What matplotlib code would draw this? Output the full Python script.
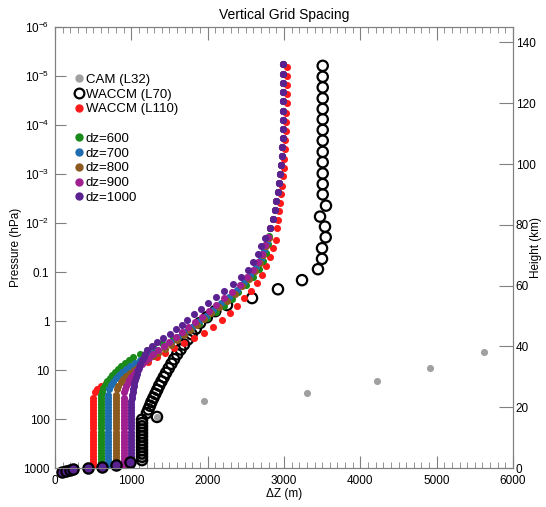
#Vertical grid spacing of CAM / WACCM and constant-dz test grids
import numpy as np
import matplotlib.pyplot as plt
from matplotlib.lines import Line2D

plt.rcParams['font.family'] = ['Liberation Sans', 'DejaVu Sans']
plt.rcParams['mathtext.default'] = 'regular'

#Scale height used for the height axis (km), reference pressure 1000 hPa
H = 7.0
P0 = 1000.0
z_top = H*np.log(P0/1e-6)

#CAM L32 (dz in m, height in km)
cam_dz = [1140, 1140, 1140, 1140, 1140, 1140, 1140, 1140, 1140, 1140, 1140, 1140, 1140,
          1336, 1952, 3305, 4218, 4913, 5620]
cam_z = [2.6, 3.7, 4.8, 5.9, 7.0, 8.1, 9.2, 10.4, 11.5, 12.6, 13.7, 14.8, 15.9,
         16.8, 22.0, 24.7, 28.6, 32.9, 38.2]

#WACCM L70 near the surface
sfc_dz = [92, 144, 197, 236, 432, 616, 800, 983]
sfc_z = [-1.3, -1.0, -0.7, -0.3, 0.0, 0.3, 1.0, 2.0]

#WACCM L70
l70_dz = [1140, 1140, 1140, 1140, 1140, 1140, 1140, 1140, 1140, 1140, 1140, 1140, 1140,
          1336, 1205, 1225, 1245, 1265, 1290, 1315, 1340, 1365, 1395, 1425, 1455, 1490,
          1525, 1560, 1600, 1645, 1690, 1740, 1790, 1845, 1900, 1990, 2100, 2253, 2581,
          2921, 3236, 3445, 3498, 3498, 3546, 3537, 3472, 3550, 3507, 3507, 3507, 3507,
          3507, 3507, 3507, 3507, 3507, 3507, 3507, 3507, 3507]
l70_z = [2.6, 3.7, 4.8, 5.9, 7.0, 8.1, 9.2, 10.4, 11.5, 12.6, 13.7, 14.8, 15.9,
         16.8, 18.1, 19.3, 20.5, 21.8, 23.1, 24.4, 25.7, 27.1, 28.5, 29.9, 31.3, 32.8,
         34.3, 35.8, 37.4, 39.0, 40.6, 42.3, 44.0, 45.8, 47.7, 49.6, 51.6, 53.6, 55.9,
         58.8, 61.8, 65.4, 68.8, 72.3, 75.9, 79.4, 82.7, 86.3, 90.0, 93.4, 96.9, 100.6,
         104.0, 107.7, 111.2, 114.7, 118.1, 121.6, 125.2, 128.7, 132.3]

#WACCM L110
l110_dz = [500]*24 + [520, 550, 600, 668, 747, 852, 956, 1061, 1218, 1336, 1441, 1559,
           1690, 1821, 1952, 2070, 2188, 2293, 2384, 2476, 2568, 2646, 2712, 2764, 2817,
           2856, 2895, 2908, 2921, 2934, 2948, 2961, 2974, 2987, 3000, 3000, 3013, 3013,
           3026, 3026, 3026, 3039, 3039, 3039, 3039, 3039]
l110_z = list(range(24)) + [25.0, 26.0, 27.0, 28.0, 29.3, 30.6, 31.9, 33.2, 34.9, 36.5,
          37.8, 39.5, 41.1, 42.8, 44.4, 46.4, 48.7, 51.0, 53.3, 55.9, 58.2, 60.9, 63.5,
          66.4, 69.4, 72.4, 75.0, 78.9, 81.6, 84.4, 87.2, 90.0, 92.9, 95.9, 98.8, 101.8,
          104.8, 107.9, 110.9, 113.9, 116.9, 120.0, 122.9, 125.9, 128.9, 132.0]

#Constant dz grids: lower part of each one
dz600_dz = [600]*25 + [610, 629, 650, 681, 715, 747, 785, 825, 870, 917, 970, 1022, 1110,
            1200, 1280, 1402, 1540, 1660, 1780, 1890, 1991, 2110, 2210, 2320, 2400, 2500,
            2590, 2670, 2720, 2760, 2790, 2805]
dz600_z = list(range(25)) + [25.0, 26.2, 27.3, 28.5, 29.6, 30.6, 31.6, 32.6, 33.6, 34.6,
           35.6, 36.5, 37.6, 38.7, 39.9, 41.1, 42.5, 44.0, 45.6, 47.4, 49.3, 51.3, 53.4,
           55.6, 57.9, 60.3, 62.8, 65.4, 68.1, 70.8, 73.6, 76.4]

dz700_dz = [700]*25 + [710, 730, 760, 795, 835, 880, 930, 985, 1045, 1110, 1180, 1255,
            1340, 1430, 1520, 1610, 1700, 1790, 1880, 1975, 2075, 2180, 2285, 2380, 2470,
            2560, 2635, 2695, 2740, 2775]
dz700_z = list(range(25)) + [26.0, 27.2, 28.4, 29.5, 30.6, 31.6, 32.6, 33.6, 34.6, 35.6,
           36.6, 37.7, 38.9, 40.2, 41.6, 43.1, 44.7, 46.4, 48.2, 50.1, 52.1, 54.2, 56.4,
           58.7, 61.1, 63.6, 66.2, 68.9, 71.6, 74.4]

dz800_dz = [800]*25 + [810, 830, 860, 895, 935, 980, 1030, 1085, 1145, 1210, 1280, 1355,
            1435, 1520, 1600, 1685, 1770, 1860, 1950, 2045, 2150, 2255, 2355, 2450, 2540,
            2615, 2680, 2730, 2770, 2800]
dz800_z = list(range(25)) + [26.0, 27.1, 28.2, 29.3, 30.3, 31.3, 32.3, 33.3, 34.4, 35.5,
           36.7, 37.9, 39.2, 40.6, 42.1, 43.7, 45.4, 47.2, 49.1, 51.0, 53.0, 55.1, 57.4,
           59.8, 62.2, 64.8, 67.4, 70.1, 72.9, 75.7]

dz900_dz = [900]*24 + [905, 915, 930, 950, 975, 1000, 1030, 1065, 1100, 1140, 1185, 1235,
            1290, 1355, 1425, 1500, 1580, 1660, 1745, 1830, 1920, 2015, 2115, 2220, 2325,
            2425, 2515, 2595, 2660, 2715, 2755, 2790]
dz900_z = list(range(24)) + [25.0, 26.0, 27.0, 28.0, 29.0, 30.0, 31.0, 32.0, 33.0, 34.1,
           35.2, 36.3, 37.5, 38.8, 40.1, 41.5, 43.0, 44.6, 46.3, 48.0, 49.8, 51.7, 53.7,
           55.8, 58.0, 60.3, 62.7, 65.2, 67.8, 70.5, 73.2, 76.0]

dz1000_dz = [1000]*23 + [1005, 1010, 1018, 1025, 1032, 1040, 1048, 1058, 1070, 1085, 1100,
             1115, 1135, 1160, 1185, 1210, 1270, 1330, 1420, 1510, 1590, 1660, 1735, 1820,
             1910, 2010, 2110, 2220, 2330, 2440, 2530, 2600, 2655, 2705, 2750]
dz1000_z = list(range(23)) + [23.0, 24.0, 25.0, 26.0, 27.0, 28.0, 29.0, 30.0, 31.0, 32.1,
            33.2, 34.3, 35.4, 36.5, 37.6, 38.8, 40.0, 41.3, 42.7, 44.2, 45.7, 47.2, 48.8,
            50.5, 52.3, 54.2, 56.2, 58.3, 60.5, 62.8, 65.2, 67.7, 70.3, 73.0, 75.8]

#Upper part, the same for all constant dz grids
upper_dz = [2820, 2850, 2878, 2900, 2920, 2938, 2952, 2962, 2970, 2976, 2981, 2985, 2988,
            2990, 2990, 2990, 2990, 2990, 2990]
upper_z = [79.0, 81.9, 84.8, 87.7, 90.7, 93.7, 96.6, 99.6, 102.6, 105.6, 108.6, 111.6,
           114.6, 117.6, 120.6, 123.6, 126.6, 129.6, 132.8]

dz_cases = ['dz=600', 'dz=700', 'dz=800', 'dz=900', 'dz=1000']
dz_colors = ['#1a8a1a', '#1f6db0', '#8c5a1e', '#a0208f', '#5a2191']
dz_lists = [(dz600_dz, dz600_z), (dz700_dz, dz700_z), (dz800_dz, dz800_z),
            (dz900_dz, dz900_z), (dz1000_dz, dz1000_z)]

#Pressure ticks for the left axis
p_ticks = [1000, 100, 10, 1, 0.1, 1e-2, 1e-3, 1e-4, 1e-5, 1e-6]
p_labels = ['1000', '100', '10', '1', '0.1', '$10^{-2}$', '$10^{-3}$', '$10^{-4}$',
            '$10^{-5}$', '$10^{-6}$']

fig = plt.figure(figsize=(5.46, 5.07), dpi=100)
ax = fig.add_axes([0.1007, 0.0769, 0.8389, 0.8698])

dot = 26
grey = '#a0a0a0'
ax.scatter(cam_dz, cam_z, s=dot, color=grey, lw=0, zorder=2)
ax.scatter(l70_dz, l70_z, s=55, facecolor='none', edgecolor='black', lw=1.6, zorder=2.5)
ax.scatter(sfc_dz, sfc_z, s=55, facecolor='#5a2191', edgecolor='black', lw=1.6,
           zorder=5, clip_on=False)
ax.scatter(l110_dz, l110_z, s=dot, color='#ff1a1a', lw=0, zorder=3)
for (d, z), c in zip(dz_lists, dz_colors):
    ax.scatter(list(d) + upper_dz, list(z) + upper_z, s=dot, color=c, lw=0, zorder=4)

ax.set_xlim(0, 6000)
ax.set_ylim(0, z_top)
ax.set_xticks(np.arange(0, 6001, 1000))
ax.set_xticks(np.arange(0, 6001, 100), minor=True)
ax.set_yticks([H*np.log(P0/p) for p in p_ticks])
ax.set_yticklabels(p_labels)

spine_c = '#808080'
for s in ax.spines.values():
    s.set_color(spine_c)
ax.tick_params(axis='x', which='major', direction='in', length=9, color=spine_c,
               top=True, labelsize=8.5, pad=5)
ax.tick_params(axis='x', which='minor', direction='in', length=4, color=spine_c, top=True)
ax.tick_params(axis='y', which='major', direction='in', length=8, color=spine_c,
               labelsize=8.5, pad=4)

ax2 = ax.twinx()
ax2.set_ylim(0, z_top)
ax2.set_yticks(np.arange(0, 141, 20))
ax2.tick_params(axis='y', direction='in', length=10, color=spine_c, labelsize=8.5, pad=2)
for s in ax2.spines.values():
    s.set_color(spine_c)

ax.set_title('Vertical Grid Spacing', fontsize=10, pad=6)
ax.set_xlabel('\u0394Z (m)', fontsize=8.5, labelpad=1)
ax.set_ylabel('Pressure (hPa)', fontsize=8.5)
ax.yaxis.set_label_coords(-0.072, 0.5)
ax2.set_ylabel('Height (km)', fontsize=8.5)
ax2.yaxis.set_label_coords(1.036, 0.5)

handles = [Line2D([], [], ls='none', marker='o', ms=5, mfc=grey, mec=grey),
           Line2D([], [], ls='none', marker='o', ms=7, mfc='none', mec='black', mew=1.6),
           Line2D([], [], ls='none', marker='o', ms=5, mfc='#ff1a1a', mec='#ff1a1a'),
           Line2D([], [], ls='none')]
labels = ['CAM (L32)', 'WACCM (L70)', 'WACCM (L110)', ' ']
for name, c in zip(dz_cases, dz_colors):
    handles.append(Line2D([], [], ls='none', marker='o', ms=5, mfc=c, mec=c))
    labels.append(name)
ax.legend(handles, labels, loc='upper left', bbox_to_anchor=(0.02, 0.915), frameon=False,
          fontsize=9.5, handlelength=0.8, handletextpad=0.15, labelspacing=0.19,
          borderpad=0.2)

fig.savefig('out.png', dpi=100)
